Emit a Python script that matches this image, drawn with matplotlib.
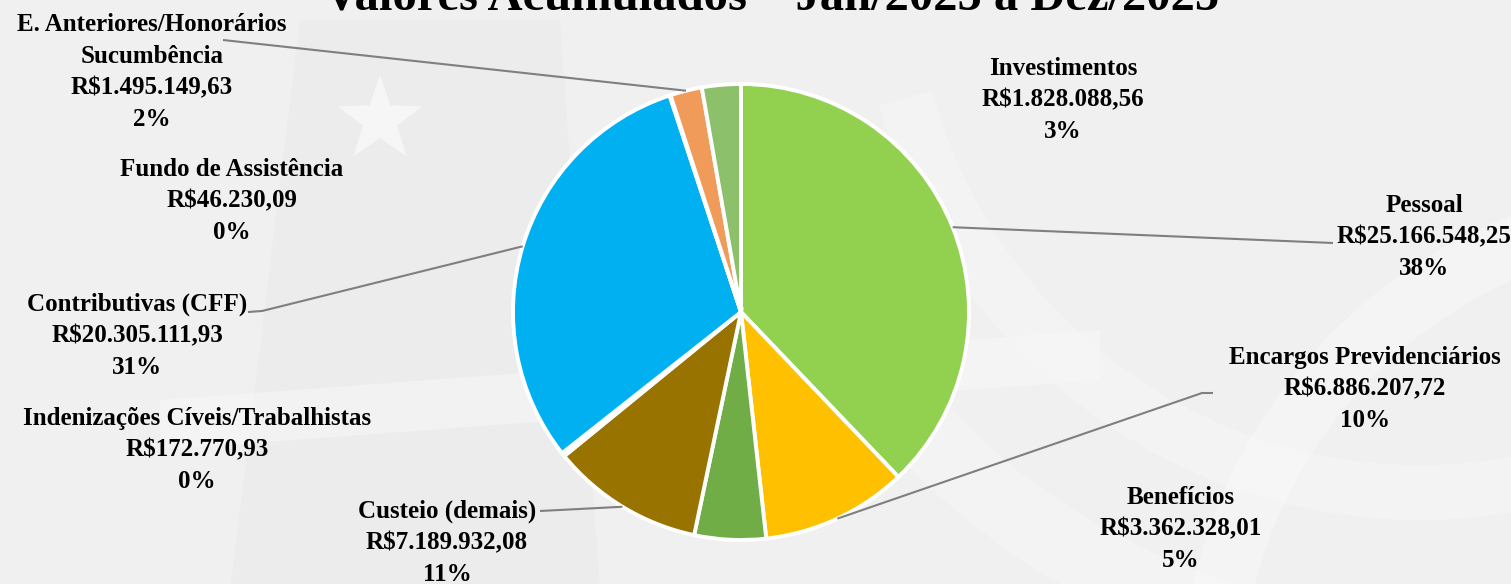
import matplotlib
matplotlib.use("Agg")
import matplotlib.pyplot as plt
from matplotlib.patches import Polygon, Wedge
import numpy as np

# ---- data ----
categories = ["Pessoal", "Encargos Previdenciários", "Benefícios", "Custeio (demais)",
              "Indenizações Cíveis/Trabalhistas", "Contributivas (CFF)", "Fundo de Assistência",
              "E. Anteriores/Honorários\nSucumbência", "Investimentos"]
values = [25166548.25, 6886207.72, 3362328.01, 7189932.08, 172770.93,
          20305111.93, 46230.09, 1495149.63, 1828088.56]
value_labels = ["R$25.166.548,25", "R$6.886.207,72", "R$3.362.328,01", "R$7.189.932,08",
                "R$172.770,93", "R$20.305.111,93", "R$46.230,09", "R$1.495.149,63", "R$1.828.088,56"]
colors = ["#92D050", "#FFC000", "#70AD47", "#997300", "#F2F2F2",
          "#00B0F0", "#F2F2F2", "#F19B5B", "#8DC06A"]
title = "Valores Acumulados – Jan/2025 a Dez/2025"

# ---- layout (pixel coords, y from top) ----
W, H = 1511, 584
center = (741, 312)
radius = 228
label_pos = [(1424, 237), (1365, 389), (1181, 529), (447, 543), (197, 450),
             (137, 336), (232, 201), (152, 72), (1063, 100)]
leader_pts = [[(1333, 243)], [(1202, 393), (1213, 393)], None, [(540, 511)], None,
              [(262, 311), (248, 312)], None, [(223, 40)], None]

fig = plt.figure(figsize=(W / 100, H / 100), dpi=100)
bg = "#F0F0F0"
fig.patch.set_facecolor(bg)
ax = fig.add_axes([0, 0, 1, 1])
ax.set_xlim(0, W)
ax.set_ylim(0, H)
ax.set_aspect("equal")
ax.axis("off")
ax.set_facecolor(bg)

def Y(y):
    return H - y

# faint watermark shapes
wm = dict(zorder=0, lw=0)
ax.add_patch(Wedge((1420, Y(-40)), 720, 200, 300, width=70, fc="white", alpha=0.25, **wm))
ax.add_patch(Wedge((1420, Y(-40)), 560, 195, 300, width=55, fc="white", alpha=0.25, **wm))
ax.add_patch(Wedge((1700, Y(700)), 520, 90, 180, width=60, fc="white", alpha=0.3, **wm))
ax.add_patch(Polygon([(230, Y(590)), (300, Y(20)), (560, Y(20)), (600, Y(590))],
                     fc="#E8E8E8", alpha=0.4, **wm))
ax.add_patch(Polygon([(160, Y(400)), (1100, Y(330)), (1100, Y(380)), (160, Y(450))],
                     fc="#F8F8F8", alpha=0.5, **wm))
ang = np.deg2rad(90 + np.arange(10) * 36)
rr = np.where(np.arange(10) % 2 == 0, 45, 18)
star = np.column_stack([380 + rr * np.cos(ang), Y(120) + rr * np.sin(ang)])
ax.add_patch(Polygon(star, fc="#F6F6F6", **wm))

# pie
wedges, _ = ax.pie(values, colors=colors, startangle=90, counterclock=False,
                   center=(center[0], Y(center[1])), radius=radius,
                   wedgeprops=dict(edgecolor="white", linewidth=2.8), frame=True)
ax.set_xlim(0, W)
ax.set_ylim(0, H)
ax.axis("off")

total = sum(values)
font = dict(family="Liberation Serif", fontweight="bold", color="black")
for i, (cat, vl, v) in enumerate(zip(categories, value_labels, values)):
    pct = f"{round(v / total * 100):.0f}%"
    lx, ly = label_pos[i]
    ax.text(lx, Y(ly), f"{cat}\n{vl}\n{pct}", ha="center", va="center",
            fontsize=18, linespacing=1.47, zorder=5, **font)
    if leader_pts[i] is not None:
        w = wedges[i]
        mid = np.deg2rad((w.theta1 + w.theta2) / 2)
        sx = w.center[0] + w.r * np.cos(mid)
        sy = w.center[1] + w.r * np.sin(mid)
        xs = [sx] + [p[0] for p in leader_pts[i]]
        ys = [sy] + [Y(p[1]) for p in leader_pts[i]]
        ax.plot(xs, ys, color="#7F7F7F", lw=1.5, zorder=4, solid_capstyle="butt")

ax.text(772, Y(-3), title, ha="center", va="center", fontsize=35, zorder=5, **font)

fig.savefig("out.png", dpi=100, facecolor=bg)
